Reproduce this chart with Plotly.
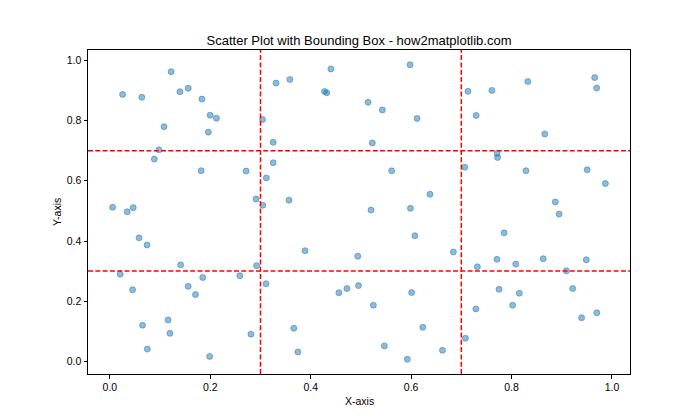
import plotly.graph_objects as go

x_vals = [0.3745, 0.9507, 0.7320, 0.5987, 0.1560, 0.1560, 0.0581, 0.8662, 0.6011, 0.7081,
          0.0206, 0.9699, 0.8324, 0.2123, 0.1818, 0.1834, 0.3042, 0.5248, 0.4319, 0.2912,
          0.6119, 0.1395, 0.2921, 0.3664, 0.4561, 0.7852, 0.1997, 0.5142, 0.5924, 0.0465,
          0.6075, 0.1705, 0.0651, 0.9489, 0.9656, 0.8084, 0.3046, 0.0977, 0.6842, 0.4402,
          0.1220, 0.4952, 0.0344, 0.9093, 0.2588, 0.6625, 0.3117, 0.5201, 0.5467, 0.1849,
          0.9696, 0.7751, 0.9395, 0.8948, 0.5979, 0.9219, 0.0885, 0.1960, 0.0452, 0.3253,
          0.3887, 0.2713, 0.8287, 0.3568, 0.2809, 0.5427, 0.1409, 0.8022, 0.0746, 0.9869,
          0.7722, 0.1987, 0.0055, 0.8155, 0.7069, 0.7290, 0.7713, 0.0740, 0.3585, 0.1159,
          0.8631, 0.6233, 0.3309, 0.0636, 0.3110, 0.3252, 0.7296, 0.6376, 0.8872, 0.4722,
          0.1196, 0.7132, 0.7608, 0.5613, 0.7710, 0.4938, 0.5227, 0.4275, 0.0254, 0.1079]
y_vals = [0.0314, 0.6364, 0.3144, 0.5086, 0.9076, 0.2493, 0.4104, 0.7556, 0.2288, 0.0770,
          0.2898, 0.1612, 0.9297, 0.8081, 0.6334, 0.8715, 0.8037, 0.1866, 0.8926, 0.5393,
          0.8074, 0.8961, 0.3180, 0.1101, 0.2279, 0.4271, 0.8180, 0.8607, 0.0070, 0.5107,
          0.4174, 0.2221, 0.1199, 0.3376, 0.9429, 0.3232, 0.5188, 0.7030, 0.3636, 0.9718,
          0.9624, 0.2518, 0.4972, 0.3009, 0.2848, 0.0369, 0.6096, 0.5027, 0.0515, 0.2786,
          0.9083, 0.2396, 0.1449, 0.4895, 0.9857, 0.2421, 0.6721, 0.7616, 0.2376, 0.7282,
          0.3678, 0.6323, 0.6335, 0.5358, 0.0903, 0.8353, 0.3208, 0.1865, 0.0408, 0.5909,
          0.6776, 0.0166, 0.5121, 0.2265, 0.6452, 0.1744, 0.6909, 0.3867, 0.9367, 0.1375,
          0.3411, 0.1135, 0.9247, 0.8773, 0.2579, 0.6600, 0.8172, 0.5552, 0.5297, 0.2419,
          0.0931, 0.8972, 0.9004, 0.6331, 0.3390, 0.3492, 0.7260, 0.8971, 0.8871, 0.7799]

box_x = [0.3, 0.7]
box_y = [0.3, 0.7]
tick_vals = [0.0, 0.2, 0.4, 0.6, 0.8, 1.0]
tick_text = ["0.0", "0.2", "0.4", "0.6", "0.8", "1.0"]

def lims(v):
    lo, hi = min(v), max(v)
    pad = 0.05 * (hi - lo)
    return [lo - pad, hi + pad]

FONT = "Liberation Sans"

fig = go.Figure()
fig.add_trace(go.Scatter(
    x=x_vals, y=y_vals, mode="markers",
    marker=dict(size=6, color="rgba(31,119,180,0.5)",
                line=dict(color="rgba(31,119,180,0.5)", width=1)),
    showlegend=False, hoverinfo="skip"))

for xv in box_x:
    fig.add_shape(type="line", xref="x", yref="y domain", x0=xv, x1=xv, y0=0, y1=1,
                  line=dict(color="red", width=1.5, dash="5px,2.3px"))
for yv in box_y:
    fig.add_shape(type="line", xref="x domain", yref="y", x0=0, x1=1, y0=yv, y1=yv,
                  line=dict(color="red", width=1.5, dash="5px,2.3px"))

axis_common = dict(showgrid=False, zeroline=False, showline=True, mirror=True,
                   linecolor="black", linewidth=1, ticks="outside", ticklen=3.5,
                   tickwidth=1, tickcolor="black",
                   tickfont=dict(family=FONT, size=10.5, color="black"),
                   tickvals=tick_vals, ticktext=tick_text)

fig.update_layout(
    width=700, height=420,
    margin=dict(l=88, r=70, t=50, b=46),
    paper_bgcolor="white", plot_bgcolor="white",
    xaxis=dict(range=lims(x_vals), **axis_common),
    yaxis=dict(range=lims(y_vals), **axis_common),
    title=dict(text="Scatter Plot with Bounding Box - how2matplotlib.com",
               x=0.5, xref="paper", xanchor="center",
               y=1 - 40 / 420, yref="container", yanchor="middle",
               font=dict(family=FONT, size=13, color="black")),
    annotations=[
        dict(text="X-axis", xref="paper", yref="paper", x=0.5, y=-27 / 324,
             xanchor="center", yanchor="middle", showarrow=False,
             font=dict(family=FONT, size=10.5, color="black")),
        dict(text="Y-axis", xref="paper", yref="paper", x=-31 / 542, y=0.5,
             xanchor="center", yanchor="middle", showarrow=False, textangle=-90,
             font=dict(family=FONT, size=10.5, color="black")),
    ],
)

fig.write_html("out.html")
